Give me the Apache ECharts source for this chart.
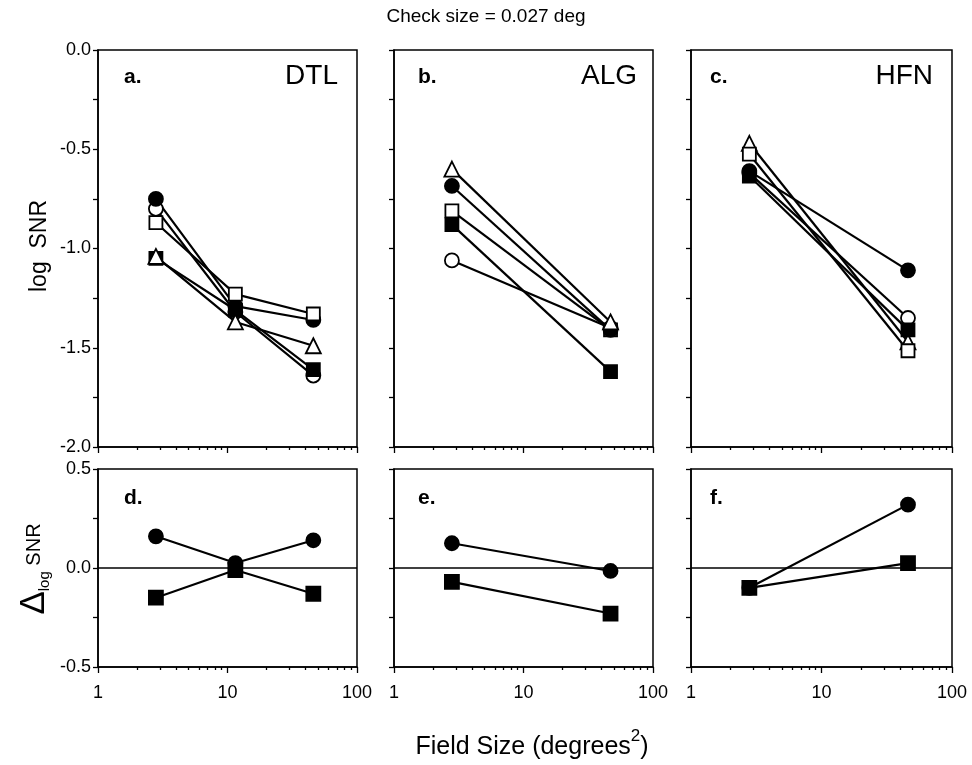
<!DOCTYPE html>
<html>
<head>
<meta charset="utf-8">
<title>log SNR vs field size</title>
<script src="https://cdn.jsdelivr.net/npm/echarts@6/dist/echarts.min.js"></script>
<style>
  html, body { margin: 0; padding: 0; background: #fff; }
  #main { width: 972px; height: 765px; }
</style>
</head>
<body>
<div id="main"></div>
<script>
// field sizes (deg^2) per observer column
const fieldDTL = [2.8, 11.5, 46];
const fieldALG = [2.8, 47];
const fieldHFN = [2.8, 46];

// a. DTL  log SNR
const dtlOpenCircle = [-0.80, -1.32, -1.64];
const dtlFilledCircle = [-0.75, -1.29, -1.36];
const dtlOpenSquare = [-0.87, -1.23, -1.33];
const dtlFilledSquare = [-1.05, -1.31, -1.61];
const dtlTriangle = [-1.04, -1.37, -1.49];

// b. ALG
const algOpenCircle = [-1.06, -1.40];
const algFilledCircle = [-0.685, -1.41];
const algOpenSquare = [-0.81, -1.41];
const algFilledSquare = [-0.88, -1.62];
const algTriangle = [-0.60, -1.37];

// c. HFN
const hfnOpenCircle = [-0.62, -1.35];
const hfnFilledCircle = [-0.61, -1.11];
const hfnOpenSquare = [-0.525, -1.515];
const hfnFilledSquare = [-0.635, -1.41];
const hfnTriangle = [-0.47, -1.47];

// d-f. delta log SNR
const dtlDeltaCircle = [0.16, 0.025, 0.14];
const dtlDeltaSquare = [-0.15, -0.01, -0.13];
const algDeltaCircle = [0.125, -0.015];
const algDeltaSquare = [-0.07, -0.23];
const hfnDeltaCircle = [-0.10, 0.32];
const hfnDeltaSquare = [-0.10, 0.025];

const panelLetters = ['a.', 'b.', 'c.', 'd.', 'e.', 'f.'];
const observers = ['DTL', 'ALG', 'HFN'];

const FONT = '"Liberation Sans", Arial, Helvetica, sans-serif';

const markers = {
  openCircle: { symbol: 'circle', fill: '#fff', size: 14 },
  filledCircle: { symbol: 'circle', fill: '#000', size: 14 },
  openSquare: { symbol: 'rect', fill: '#fff', size: 13 },
  filledSquare: { symbol: 'rect', fill: '#000', size: 13 },
  triangle: { symbol: 'triangle', fill: '#fff', size: 15 }
};

function mkLine(grid, kind, xs, ys, extra) {
  const m = markers[kind];
  return Object.assign({
    type: 'line',
    xAxisIndex: grid,
    yAxisIndex: grid,
    data: xs.map((x, i) => [x, ys[i]]),
    symbol: m.symbol,
    symbolSize: m.size,
    showSymbol: true,
    showAllSymbol: true,
    lineStyle: { color: '#000', width: 2.2 },
    itemStyle: { color: m.fill, borderColor: '#000', borderWidth: 1.8, opacity: 1 },
    emphasis: { disabled: true },
    animation: false
  }, extra || {});
}

const zeroLine = {
  markLine: {
    silent: true,
    symbol: 'none',
    z: 1,
    label: { show: false },
    lineStyle: { color: '#000', width: 1.5, type: 'solid' },
    data: [{ yAxis: 0 }]
  }
};

const colLeft = [98, 394, 691];
const colWidth = [259, 259, 261];
const rowTop = [50, 469];
const rowHeight = [397, 198];

const grids = [], xAxes = [], yAxes = [];
for (let r = 0; r < 2; r++) {
  for (let c = 0; c < 3; c++) {
    const gi = r * 3 + c;
    grids.push({
      left: colLeft[c], top: rowTop[r], width: colWidth[c], height: rowHeight[r],
      show: true, borderColor: '#000', borderWidth: 1.5, backgroundColor: 'transparent',
      outerBoundsMode: 'none', containLabel: false
    });
    xAxes.push({
      type: 'log', logBase: 10, gridIndex: gi, min: 1, max: 100,
      axisLine: { show: true, onZero: false, lineStyle: { color: '#000', width: 1.5 } },
      axisTick: { show: true, length: 6, lineStyle: { color: '#000', width: 1.3 } },
      minorTick: { show: true, splitNumber: 9, length: 3, lineStyle: { color: '#000', width: 1.3 } },
      axisLabel: { show: r === 1, color: '#000', fontFamily: FONT, fontSize: 18, margin: 17 },
      splitLine: { show: false },
      minorSplitLine: { show: false }
    });
    yAxes.push({
      type: 'value', gridIndex: gi,
      min: r === 0 ? -2 : -0.5, max: r === 0 ? 0 : 0.5, interval: 0.25,
      axisLine: { show: true, onZero: false, lineStyle: { color: '#000', width: 1.5 } },
      axisTick: { show: true, length: 5, lineStyle: { color: '#000', width: 1.3 } },
      axisLabel: {
        show: c === 0, color: '#000', fontFamily: FONT, fontSize: 18, margin: 7,
        formatter: v => (Math.abs(v * 2 - Math.round(v * 2)) < 1e-9 ? v.toFixed(1) : '')
      },
      splitLine: { show: false }
    });
  }
}

const series = [
  // a. DTL
  mkLine(0, 'openCircle', fieldDTL, dtlOpenCircle),
  mkLine(0, 'filledSquare', fieldDTL, dtlFilledSquare),
  mkLine(0, 'filledCircle', fieldDTL, dtlFilledCircle),
  mkLine(0, 'openSquare', fieldDTL, dtlOpenSquare),
  mkLine(0, 'triangle', fieldDTL, dtlTriangle),
  // b. ALG
  mkLine(1, 'openCircle', fieldALG, algOpenCircle),
  mkLine(1, 'openSquare', fieldALG, algOpenSquare),
  mkLine(1, 'filledCircle', fieldALG, algFilledCircle),
  mkLine(1, 'filledSquare', fieldALG, algFilledSquare),
  mkLine(1, 'triangle', fieldALG, algTriangle),
  // c. HFN
  mkLine(2, 'triangle', fieldHFN, hfnTriangle),
  mkLine(2, 'openSquare', fieldHFN, hfnOpenSquare),
  mkLine(2, 'openCircle', fieldHFN, hfnOpenCircle),
  mkLine(2, 'filledCircle', fieldHFN, hfnFilledCircle),
  mkLine(2, 'filledSquare', fieldHFN, hfnFilledSquare),
  // d-f. differences
  mkLine(3, 'filledCircle', fieldDTL, dtlDeltaCircle, zeroLine),
  mkLine(3, 'filledSquare', fieldDTL, dtlDeltaSquare, { symbolSize: 14 }),
  mkLine(4, 'filledCircle', fieldALG, algDeltaCircle, zeroLine),
  mkLine(4, 'filledSquare', fieldALG, algDeltaSquare, { symbolSize: 14 }),
  mkLine(5, 'filledCircle', fieldHFN, hfnDeltaCircle, zeroLine),
  mkLine(5, 'filledSquare', fieldHFN, hfnDeltaSquare, { symbolSize: 14 })
];

function txt(x, y, text, font, align, extra) {
  return Object.assign({
    type: 'text', x: x, y: y, silent: true,
    style: {
      text: text, font: font, fill: '#000',
      textAlign: align, textVerticalAlign: 'middle',
      align: align, verticalAlign: 'middle'
    }
  }, extra || {});
}

const letterX = [124, 418, 710];
const nameRight = [338, 637, 933];
const graphics = [
  txt(486, 17, 'Check size = 0.027 deg', '19px ' + FONT, 'center'),
  txt(40, 246, 'log  SNR', '23px ' + FONT, 'center', { rotation: Math.PI / 2 }),
  {
    type: 'text', x: 34, y: 569, rotation: Math.PI / 2, silent: true,
    style: {
      text: '{d|\u0394}{l|log}{s| SNR}',
      fill: '#000', align: 'center', verticalAlign: 'middle',
      textAlign: 'center', textVerticalAlign: 'middle',
      rich: {
        d: { fontFamily: FONT, fontSize: 35, lineHeight: 36, verticalAlign: 'middle' },
        l: { fontFamily: FONT, fontSize: 15, verticalAlign: 'bottom' },
        s: { fontFamily: FONT, fontSize: 20, verticalAlign: 'middle' }
      }
    }
  },
  {
    type: 'text', x: 532, y: 744, silent: true,
    style: {
      text: '{a|Field Size (degrees}{s|2}{a|)}',
      fill: '#000', align: 'center', verticalAlign: 'middle',
      textAlign: 'center', textVerticalAlign: 'middle',
      rich: {
        a: { fontFamily: FONT, fontSize: 25, lineHeight: 32, verticalAlign: 'bottom' },
        s: { fontFamily: FONT, fontSize: 17, verticalAlign: 'top' }
      }
    }
  }
];
for (let c = 0; c < 3; c++) {
  graphics.push(txt(letterX[c], 77, panelLetters[c], 'bold 21px ' + FONT, 'left'));
  graphics.push(txt(letterX[c], 498, panelLetters[c + 3], 'bold 21px ' + FONT, 'left'));
  graphics.push(txt(nameRight[c], 76, observers[c], '28px ' + FONT, 'right'));
}

const chart = echarts.init(document.getElementById('main'), null, { renderer: 'canvas' });
chart.setOption({
  backgroundColor: '#fff',
  animation: false,
  textStyle: { fontFamily: FONT },
  grid: grids,
  xAxis: xAxes,
  yAxis: yAxes,
  series: series,
  graphic: graphics
});
</script>
</body>
</html>
